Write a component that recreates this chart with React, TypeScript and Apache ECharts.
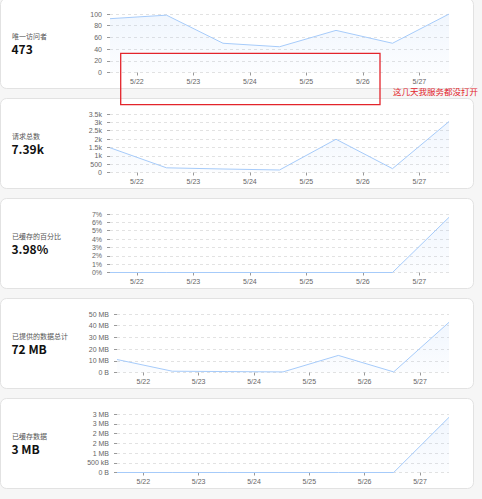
import React, { useEffect, useRef } from "react";
import * as echarts from "echarts";

// ---- data ----
const times = [
  "2023-05-21T12:35",
  "2023-05-22T12:35",
  "2023-05-23T12:35",
  "2023-05-24T12:35",
  "2023-05-25T12:35",
  "2023-05-26T12:35",
  "2023-05-27T12:35",
];
const titles = ["唯一访问者", "请求总数", "已缓存的百分比", "已提供的数据总计", "已缓存数据"];
const totals = ["473", "7.39k", "3.98%", "72 MB", "3 MB"];
const visitors = [92, 98, 50, 44, 72, 50, 100];
const requests = [1480, 280, 210, 150, 1990, 230, 3050];
const cachedPercent = [0, 0, 0, 0, 0, 0, 6.6];
const servedBytes = [11.1e6, 1.1e6, 0.8e6, 0.5e6, 14.6e6, 0.5e6, 42.9e6];
const cachedBytes = [0, 0, 0, 0, 0, 0, 2.83e6];
const yMax = [100, 3500, 7, 50e6, 3e6];
const yStep = [20, 500, 1, 10e6, 5e5];
const annotation = "这几天我服务都没打开";

const FONT = '"Noto Sans CJK SC", "Noto Sans", sans-serif';
const AXIS_FONT = '"Liberation Sans", Arial, sans-serif';
const LINE = "#a6cbfa";
const DAY = 86400000;

const fmtPlain = (v: number) => String(v);
const fmtK = (v: number) => (v >= 1000 ? `${v / 1000}k` : String(v));
const fmtPct = (v: number) => `${v}%`;
const fmtBytes = (v: number) => {
  if (v === 0) return "0 B";
  if (v >= 1e6) return `${Math.round(v / 1e6)} MB`;
  return `${Math.round(v / 1e3)} kB`;
};
const fmtDay = (value: number) => {
  const d = new Date(value);
  if (d.getHours() !== 0 || d.getMinutes() !== 0) return "";
  return `${d.getMonth() + 1}/${d.getDate()}`;
};

export default function App() {
  const ref = useRef<HTMLDivElement>(null);
  useEffect(() => {
    if (!ref.current) return;
    const chart = echarts.init(ref.current, undefined, { renderer: "svg" });
    const seriesData = [visitors, requests, cachedPercent, servedBytes, cachedBytes];
    const yFormatters = [fmtPlain, fmtK, fmtPct, fmtBytes, fmtBytes];
    const cardTops = [-2, 98, 198, 298, 398];
    const ts = times.map((t) => new Date(t).getTime());

    const grids = cardTops.map((t, i) => ({
      left: i >= 3 ? 117 : 110,
      right: 33,
      top: t + 16,
      height: 58.5,
    }));
    const xAxes = cardTops.map((_, i) => ({
      type: "time",
      gridIndex: i,
      min: ts[0],
      max: ts[ts.length - 1],
      minInterval: DAY,
      maxInterval: DAY,
      axisLine: { show: false },
      axisTick: { show: true, length: 3, lineStyle: { color: "#999", width: 1 } },
      splitLine: { show: false },
      axisLabel: {
        fontSize: 7,
        lineHeight: 7,
        color: "#666",
        fontFamily: AXIS_FONT,
        margin: 5,
        formatter: fmtDay,
        hideOverlap: false,
      },
    }));
    const yAxes = cardTops.map((_, i) => ({
      type: "value",
      gridIndex: i,
      min: 0,
      max: yMax[i],
      interval: yStep[i],
      axisLine: { show: false },
      axisTick: { show: true, length: 3, lineStyle: { color: "#999", width: 1 } },
      splitLine: { show: true, lineStyle: { color: "#e2e2e2", type: [3, 3], width: 1 } },
      axisLabel: {
        fontSize: 7,
        lineHeight: 7,
        color: "#666",
        fontFamily: AXIS_FONT,
        margin: 8,
        formatter: yFormatters[i],
      },
    }));
    const series = seriesData.map((vals, i) => ({
      type: "line",
      xAxisIndex: i,
      yAxisIndex: i,
      data: ts.map((t, j) => [t, vals[j]]),
      symbol: "none",
      silent: true,
      lineStyle: { color: LINE, width: 1 },
      areaStyle: {
        color: new echarts.graphic.LinearGradient(0, 0, 0, 1, [
          { offset: 0, color: "rgba(140,185,245,0.18)" },
          { offset: 1, color: "rgba(140,185,245,0.04)" },
        ]),
      },
    }));

    const graphics: any[] = [];
    cardTops.forEach((t, i) => {
      graphics.push({
        type: "rect",
        z: -10,
        shape: { x: 0.5, y: t + 0.5, width: 473, height: 90, r: 6 },
        style: { fill: "#ffffff", stroke: "#e2e2e2", lineWidth: 1 },
      });
      graphics.push({
        type: "text",
        z: 10,
        x: 12,
        y: t + 37.7,
        style: { text: titles[i], fontSize: 7, fill: "#555", fontFamily: FONT, verticalAlign: "middle" },
      });
      graphics.push({
        type: "text",
        z: 10,
        x: 11.5,
        y: t + 50.3,
        style: {
          text: totals[i],
          fontSize: 12,
          fontWeight: 600,
          fill: "#111",
          fontFamily: FONT,
          verticalAlign: "middle",
        },
      });
    });
    graphics.push({
      type: "rect",
      z: 100,
      shape: { x: 120.7, y: 53.3, width: 259.3, height: 51.4 },
      style: { fill: "none", stroke: "#e3242b", lineWidth: 1.3 },
    });
    graphics.push({
      type: "text",
      z: 100,
      x: 393,
      y: 91,
      style: { text: annotation, fontSize: 8.5, fill: "#e3242b", fontFamily: FONT, verticalAlign: "middle" },
    });

    chart.setOption({
      animation: false,
      backgroundColor: "#f6f6f6",
      grid: grids,
      xAxis: xAxes,
      yAxis: yAxes,
      series,
      graphic: { elements: graphics },
    } as any);
    return () => chart.dispose();
  }, []);
  return <div ref={ref} style={{ position: "fixed", left: 0, top: 0, width: 482, height: 499 }} />;
}
